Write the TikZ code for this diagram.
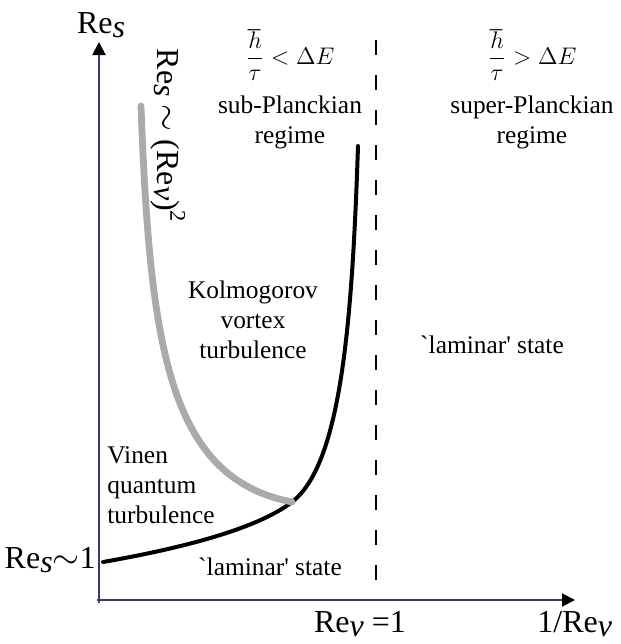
\documentclass[tikz,border=0pt]{standalone}
\usepackage{fontspec}
\setmainfont{Liberation Serif}
\usetikzlibrary{arrows.meta,positioning,calc}
\definecolor{rsaxis}{RGB}{58,58,112}
\definecolor{rsgray}{RGB}{168,170,173}
\newcommand\Rsub[1]{Re\raisebox{-0.25ex}{\itshape #1}}
\newcommand\lamstate{\textasciigrave laminar\textquotesingle{} state}
\tikzset{
  lbl/.style={font=\fontsize{12.7}{15}\selectfont, align=center, inner sep=0pt},
  biglbl/.style={font=\fontsize{16}{19}\selectfont, inner sep=0pt},
  mathlbl/.style={font=\fontsize{12.5}{15}\selectfont, inner sep=0pt},
  axis/.style={draw=rsaxis, line width=1pt,
    -{Triangle[length=6.5pt,width=6.5pt,color=black]}},
  crit/.style={draw=black, line width=2pt, line cap=round},
  vinen/.style={draw=rsgray, line width=3.4pt, line cap=round},
  sep/.style={draw=black, line width=1pt, dash pattern=on 7.5pt off 10pt}
}
\begin{document}
\begin{tikzpicture}[x=0.5pt, y=-0.5pt]
  \useasboundingbox (0,0) rectangle (621,644);
  % axes
  \coordinate (O) at (99,603);
  \coordinate (ytip) at (99,42);
  \coordinate (xorg) at (97,600);
  \coordinate (xtip) at (575,600);
  \draw[axis] (O) -- (ytip);
  \draw[axis] (xorg) -- (xtip);
  \node[biglbl] (ylab) at (101,25) {\Rsub{s}};
  \node[biglbl, anchor=west] (xlab) at (537,624) {1/\Rsub{ν}};
  \node[biglbl, anchor=east] (res1) at (96,560) {\Rsub{s}$\sim$1};
  \node[biglbl] (rev1) at (360,624) {\Rsub{ν} =1};
  % Re = 1 separation
  \coordinate (dtop) at (376,40);
  \coordinate (dbot) at (376,596);
  \draw[sep] (dtop) -- (dbot);
  % regimes
  \node[mathlbl] (sub) at (290,55) {$\displaystyle\frac{\hbar}{\tau}<\Delta E$};
  \node[mathlbl] (sup) at (532,55) {$\displaystyle\frac{\hbar}{\tau}>\Delta E$};
  \node[lbl, below=7pt of sub] (subt) {sub-Planckian\\regime};
  \node[lbl, below=7pt of sup] (supt) {super-Planckian\\regime};
  % curves
  \coordinate (cs) at (103,562);
  \coordinate (cx) at (292,502);
  \coordinate (ct) at (358,146);
  \coordinate (vt) at (141,106);
  \draw[crit] (cs) .. controls (200,545) and (262,525) .. (cx)
    .. controls (340,465) and (352,330) .. (ct);
  \draw[vinen] (vt) .. controls (150,345) and (168,478) .. (cx);
  \node[biglbl, rotate=-90] (scal) at (168,136) {\Rsub{s} $\sim$ (\Rsub{ν})\textsuperscript{2}};
  % region labels
  \node[lbl] (kolm) at (253,320) {Kolmogorov\\vortex\\turbulence};
  \node[lbl, align=left, anchor=west] (vin) at (107,485) {Vinen\\quantum\\turbulence};
  \node[lbl] (lam1) at (270,567) {\lamstate};
  \node[lbl] (lam2) at (492,345) {\lamstate};
\end{tikzpicture}
\end{document}
